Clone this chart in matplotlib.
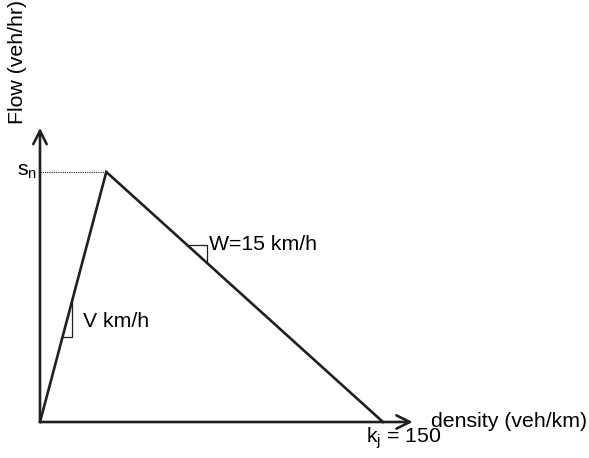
import matplotlib
matplotlib.use("Agg")
import matplotlib.pyplot as plt

# triangular fundamental diagram
k_jam = 150          # veh/km
w_speed = 15         # km/h
k_crit = 29          # veh/km
q_cap = w_speed * (k_jam - k_crit)   # veh/hr
x_axis_end = 163
y_axis_end = 2135

# slope marker positions (density)
v_mark = [9.8, 14.0]
w_mark = [64.3, 73.0]

plt.rcParams['font.family'] = ['Liberation Sans', 'DejaVu Sans']
plt.rcParams['mathtext.fontset'] = 'custom'
plt.rcParams['mathtext.rm'] = 'Liberation Sans'

fig = plt.figure(figsize=(5.89, 4.58), dpi=100)
ax = fig.add_axes([0, 0, 1, 1])
ax.set_xlim(-17.49, 240.1)
ax.set_ylim(-261.3, 3062.9)
ax.axis('off')

lw = 1.9
col = '#231f20'

# axes with arrows
ax.annotate('', xy=(x_axis_end, 0), xytext=(0, 0),
            arrowprops=dict(arrowstyle='->', lw=lw, color=col, mutation_scale=24,
                            shrinkA=0, shrinkB=0))
ax.annotate('', xy=(0, y_axis_end), xytext=(0, 0),
            arrowprops=dict(arrowstyle='->', lw=lw, color=col, mutation_scale=24,
                            shrinkA=0, shrinkB=0))

# diagram
ax.plot([0, k_crit, k_jam], [0, q_cap, 0], color=col, lw=lw, solid_joinstyle='miter')
ax.plot([0, k_crit], [q_cap, q_cap], color=col, lw=0.8, ls=(0, (1, 1)))

# slope triangles
vf = q_cap / k_crit
ax.plot([v_mark[0], v_mark[1], v_mark[1]],
        [vf * v_mark[0], vf * v_mark[0], vf * v_mark[1]], color=col, lw=0.9)
ax.plot([w_mark[0], w_mark[1], w_mark[1]],
        [w_speed * (k_jam - w_mark[0]), w_speed * (k_jam - w_mark[0]),
         w_speed * (k_jam - w_mark[1])], color=col, lw=0.9)

fs = 15.3
ax.text(w_mark[1] + 1, w_speed * (k_jam - w_mark[0]), 'W=15 km/h', fontsize=fs,
        va='center', ha='left')
ax.text(v_mark[1] + 5, 730, 'V km/h', fontsize=fs, va='center', ha='left')
ax.text(x_axis_end + 7.8, 0, 'density (veh/km)', fontsize=fs, va='center', ha='left')
ax.text(k_jam - 7.3, -120, r'$\mathrm{k_j}$ = 150', fontsize=fs, va='center', ha='left')
ax.text(-10, q_cap, r'$\mathrm{s_n}$', fontsize=fs, va='center', ha='left')
ax.text(-9.9, 2613, 'Flow (veh/hr)', fontsize=fs, va='center', ha='center',
        rotation=90)

fig.savefig('out.png', dpi=100)
